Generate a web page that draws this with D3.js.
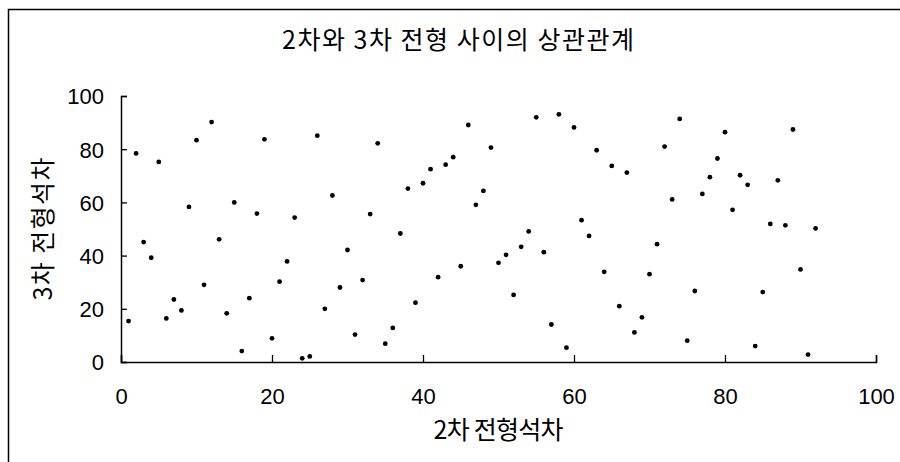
<!DOCTYPE html>
<html>
<head>
<meta charset="utf-8">
<script src="https://cdn.jsdelivr.net/npm/d3@7"></script>
<style>
  html, body { margin: 0; padding: 0; background: #fff; }
  svg { display: block; }
  .tick text { font-family: "Liberation Sans", Arial, sans-serif; font-size: 22px; fill: #000; }
  .ko { font-family: "Noto Sans CJK KR", sans-serif; fill: #000; }
</style>
</head>
<body>
<div id="chart"></div>
<script>
// 2차 전형석차 (x) and 3차 전형석차 (y)
const rank2 = [
  1, 2, 3, 4, 5, 6, 7, 8, 9, 10, 11, 12, 13, 14, 15, 16, 17, 18, 19, 20,
  21, 22, 23, 24, 25, 26, 27, 28, 29, 30, 31, 32, 33, 34, 35, 36, 37, 38, 39, 40,
  41, 42, 43, 44, 45, 46, 47, 48, 49, 50, 51, 52, 53, 54, 55, 56, 57, 58, 59, 60,
  61, 62, 63, 64, 65, 66, 67, 68, 69, 70, 71, 72, 73, 74, 75, 76, 77, 78, 79, 80,
  81, 82, 83, 84, 85, 86, 87, 88, 89, 90, 91, 92
];
const rank3 = [
  15.4, 78.4, 45.1, 39.2, 75.2, 16.4, 23.5, 19.4, 58.3, 83.4,
  29.0, 90.2, 46.1, 18.3, 60.0, 4.1, 24.0, 55.8, 83.7, 8.9,
  30.2, 37.8, 54.3, 1.4, 2.1, 85.1, 20.0, 62.6, 28.0, 42.1,
  10.3, 30.8, 55.6, 82.2, 6.9, 12.8, 48.3, 65.2, 22.3, 67.2,
  72.5, 31.9, 74.2, 77.0, 36.0, 89.1, 59.1, 64.3, 80.6, 37.3,
  40.3, 25.2, 43.3, 49.1, 92.0, 41.3, 14.1, 93.1, 5.4, 88.2,
  53.3, 47.4, 79.6, 33.9, 73.7, 21.0, 71.2, 11.1, 16.8, 33.0,
  44.3, 81.0, 61.1, 91.4, 8.0, 26.7, 63.2, 69.5, 76.5, 86.4,
  57.2, 70.2, 66.6, 6.0, 26.3, 51.9, 68.3, 51.4, 87.4, 34.8,
  2.8, 50.2
];
const xTicks = [0, 20, 40, 60, 80, 100];
const yTicks = [0, 20, 40, 60, 80, 100];
const titleText = "2차와 3차 전형 사이의 상관관계";
const xTitle = "2차 전형석차";
const yTitle = "3차 전형석차";

const width = 900;
const height = 462;
const margin = { top: 96, right: 24, bottom: 100, left: 121 };

const svg = d3.select("#chart").append("svg")
  .attr("width", width)
  .attr("height", height);

// outer frame (only left and top edges survive in the scan)
svg.append("path")
  .attr("d", `M8.5,${height}V9.5H${width}`)
  .attr("fill", "none")
  .attr("stroke", "#000")
  .attr("stroke-width", 1.5);

const x = d3.scaleLinear().domain([0, 100]).range([margin.left, width - margin.right]);
const y = d3.scaleLinear().domain([0, 100]).range([height - margin.bottom, margin.top]);

// ticks point inward, like the original
const xAxis = svg.append("g")
  .attr("transform", `translate(0,${y(0)})`)
  .call(d3.axisBottom(x).tickValues(xTicks).tickSize(-7).tickPadding(16).tickSizeOuter(-7));
const yAxis = svg.append("g")
  .attr("transform", `translate(${x(0)},0)`)
  .call(d3.axisLeft(y).tickValues(yTicks).tickSize(-6).tickPadding(17).tickSizeOuter(-6));

[xAxis, yAxis].forEach((g) => {
  g.select(".domain").attr("stroke", "#000").attr("stroke-width", 1.5);
  g.selectAll(".tick line").attr("stroke", "#000").attr("stroke-width", 1.3);
});
xAxis.selectAll(".tick text").attr("dy", "1.2em");
yAxis.selectAll(".tick text").attr("dy", "0.36em");

// points
svg.append("g")
  .selectAll("circle")
  .data(rank2.map((d, i) => [d, rank3[i]]))
  .join("circle")
  .attr("cx", (d) => x(d[0]))
  .attr("cy", (d) => y(d[1]))
  .attr("r", 2.4)
  .attr("fill", "#000");

// titles (the scan's Korean face is wider-set, so lengths are fixed)
svg.append("text")
  .attr("class", "ko")
  .attr("x", 458)
  .attr("y", 49)
  .attr("text-anchor", "middle")
  .attr("font-size", 25)
  .attr("textLength", 352)
  .attr("lengthAdjust", "spacing")
  .text(titleText);

svg.append("text")
  .attr("class", "ko")
  .attr("x", (x(0) + x(100)) / 2)
  .attr("y", 439)
  .attr("text-anchor", "middle")
  .attr("font-size", 25)
  .attr("textLength", 130)
  .attr("lengthAdjust", "spacing")
  .text(xTitle);

svg.append("text")
  .attr("class", "ko")
  .attr("transform", `translate(52,${(y(0) + y(100)) / 2}) rotate(-90)`)
  .attr("text-anchor", "middle")
  .attr("font-size", 25)
  .attr("textLength", 143)
  .attr("lengthAdjust", "spacing")
  .text(yTitle);
</script>
</body>
</html>
